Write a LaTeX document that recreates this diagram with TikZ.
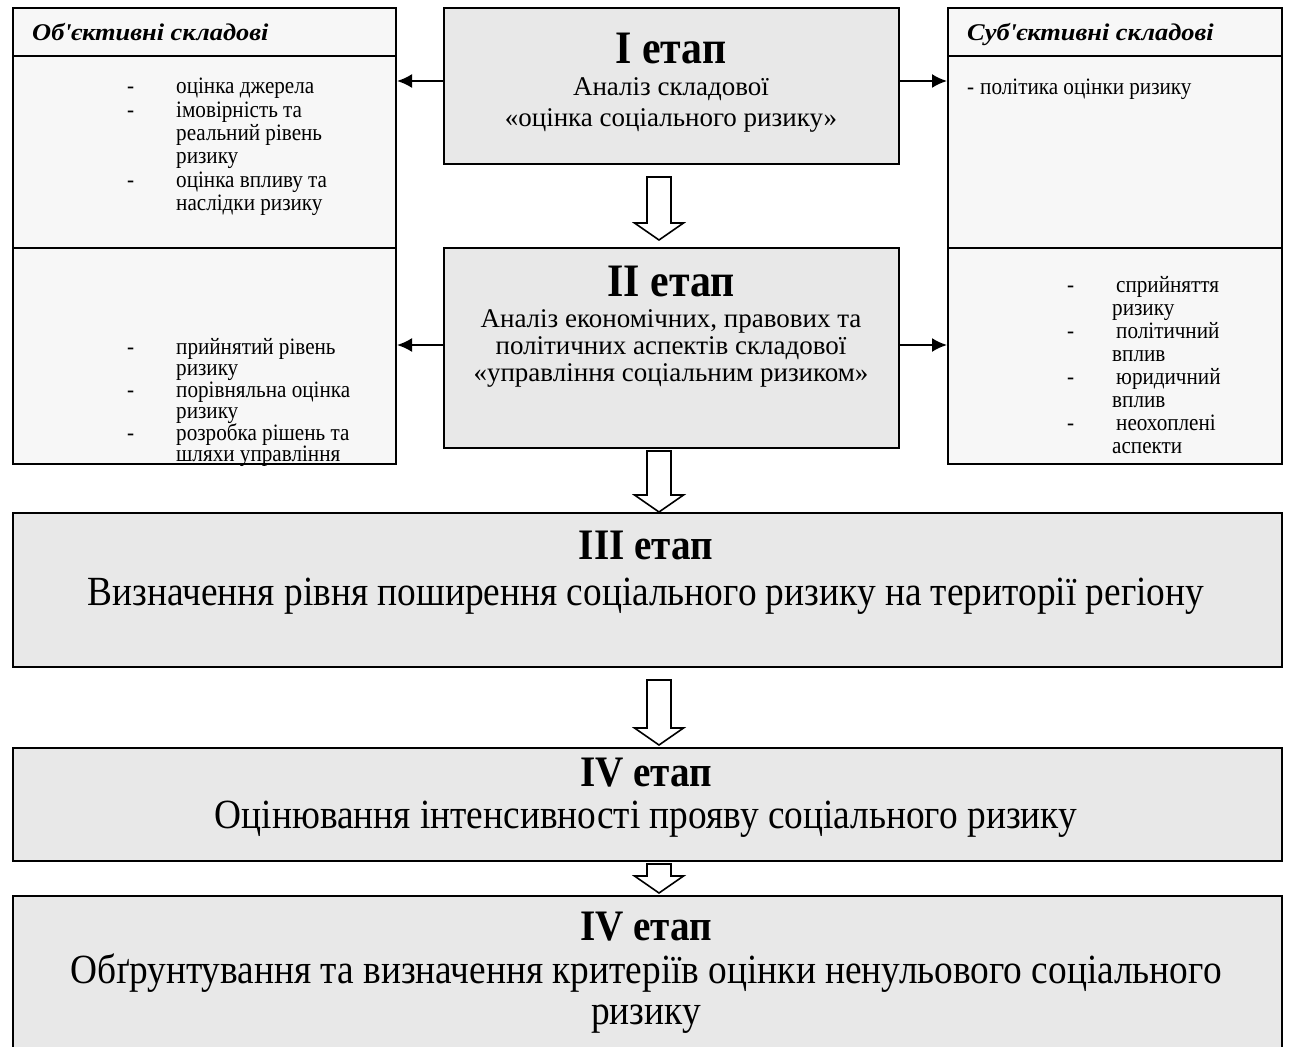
\documentclass[tikz,border=0pt]{standalone}
\usepackage{fontspec}
\setmainfont{Liberation Serif}[FakeStretch=0.9]
\newfontfamily\plainfont{Liberation Serif}
\newfontfamily\widefont{Liberation Serif}[FakeStretch=1.1]
\usepackage{xcolor}
\definecolor{stagegray}{RGB}{232,232,232}
\definecolor{sidegray}{RGB}{247,247,247}
\usetikzlibrary{arrows.meta, positioning, calc}

\newcommand{\bigtitle}{\fontsize{46.5}{48}\selectfont\bfseries}
\newcommand{\subtxt}{\plainfont\fontsize{27}{28}\selectfont}
\newcommand{\lowtitle}{\fontsize{43.5}{45}\selectfont\bfseries}
\newcommand{\lowtxt}{\fontsize{41.5}{44}\selectfont}
\newcommand{\headtxt}{\widefont\fontsize{24}{25}\selectfont\bfseries\itshape}
\newcommand{\itemtxt}{\fontsize{23.5}{24}\selectfont}

% hollow down arrow between two stages
\newcommand{\hollowdown}[2]{%
  \draw[hollow] ($(#1)+(-12,0)$) -- ($(#1)+(12,0)$) -- ($(#2)+(12,-17)$)
    -- ($(#2)+(24.5,-17)$) -- (#2) -- ($(#2)+(-24.5,-17)$) -- ($(#2)+(-12,-17)$) -- cycle;}

\tikzset{
  stagebox/.style={draw, line width=2pt, fill=stagegray, anchor=north west, inner sep=0pt},
  sidebox/.style={draw, line width=2pt, fill=sidegray, anchor=north west, inner sep=0pt},
  txt/.style={inner sep=0pt, anchor=base},
  item/.style={inner sep=0pt, anchor=base west, font=\itemtxt},
  link/.style={-{Latex[length=15pt,width=14pt]}, line width=2pt},
  hollow/.style={line width=1.6pt, fill=white, line join=miter}
}

\begin{document}
\begin{tikzpicture}[x=1pt, y=-1pt]
\useasboundingbox (0,0) rectangle (1289,1046);

% --- side columns ---
\node[sidebox, minimum width=383pt, minimum height=48pt] (objhead) at (12,7) {};
\node[sidebox, minimum width=383pt, minimum height=192pt] (objtop) at (12,55) {};
\node[sidebox, minimum width=383pt, minimum height=216pt] (objbot) at (12,247) {};
\node[sidebox, minimum width=334pt, minimum height=48pt] (subhead) at (947,7) {};
\node[sidebox, minimum width=334pt, minimum height=192pt] (subtop) at (947,55) {};
\node[sidebox, minimum width=334pt, minimum height=216pt] (subbot) at (947,247) {};

\node[inner sep=0pt, anchor=base west, font=\headtxt] (objtitle) at (32,41) {Об\textquotesingle єктивні складові};
\node[inner sep=0pt, anchor=base west, font=\headtxt] (subtitle) at (967,41) {Суб\textquotesingle єктивні складові};

% objective items
\foreach \yy [count=\k] in {94,117.3,187.2}
  \node[item] (objdashA\k) at (127,\yy) {-};
\foreach \ln/\yy [count=\k] in {оцінка джерела/94, імовірність та/117.3, реальний рівень/140.6,
    ризику/163.9, оцінка впливу та/187.2, наслідки ризику/210.5}
  \node[item] (objA\k) at (176,\yy) {\ln};
\foreach \yy [count=\k] in {354,397,440}
  \node[item] (objdashB\k) at (127,\yy) {-};
\foreach \ln/\yy [count=\k] in {прийнятий рівень/354, ризику/375.5, порівняльна оцінка/397,
    ризику/418.5, розробка рішень та/440, шляхи управління/461.5}
  \node[item] (objB\k) at (176,\yy) {\ln};

% subjective items
\node[item] (subdashA) at (967,95) {-};
\node[item] (subA) at (980,95) {політика оцінки ризику};
\foreach \yy [count=\k] in {292,338,384,430}
  \node[item] (subdashB\k) at (1067,\yy) {-};
\foreach \ln/\yy [count=\k] in {сприйняття/292, політичний/338, юридичний/384, неохоплені/430}
  \node[item] (subB\k) at (1116,\yy) {\ln};
\foreach \ln/\yy [count=\k] in {ризику/315, вплив/361, вплив/407, аспекти/453}
  \node[item] (subC\k) at (1112,\yy) {\ln};

% --- stages ---
\node[stagebox, minimum width=455pt, minimum height=156pt] (s1) at (443,7) {};
\node[txt, font=\bigtitle] (s1t) at (671,64) {I етап};
\node[txt, font=\subtxt] (s1a) at (671,96) {Аналіз складової};
\node[txt, font=\subtxt] (s1b) at (671,126) {«оцінка соціального ризику»};

\node[stagebox, minimum width=455pt, minimum height=200pt] (s2) at (443,247) {};
\node[txt, font=\bigtitle] (s2t) at (671,296) {II етап};
\node[txt, font=\subtxt] (s2a) at (671,327) {Аналіз економічних, правових та};
\node[txt, font=\subtxt] (s2b) at (671,354) {політичних аспектів складової};
\node[txt, font=\subtxt] (s2c) at (671,381) {«управління соціальним ризиком»};

\node[stagebox, minimum width=1269pt, minimum height=154pt] (s3) at (12,512) {};
\node[txt, font=\lowtitle] (s3t) at (646,559) {III етап};
\node[txt, font=\lowtxt] (s3a) at (646,605) {Визначення рівня поширення соціального ризику на території регіону};

\node[stagebox, minimum width=1269pt, minimum height=113pt] (s4) at (12,747) {};
\node[txt, font=\lowtitle] (s4t) at (646,786) {IV етап};
\node[txt, font=\lowtxt] (s4a) at (646,828) {Оцінювання інтенсивності прояву соціального ризику};

\node[stagebox, minimum width=1269pt, minimum height=180pt] (s5) at (12,895) {};
\node[txt, font=\lowtitle] (s5t) at (646,940) {IV етап};
\node[txt, font=\lowtxt] (s5a) at (646,983) {Обґрунтування та визначення критеріїв оцінки ненульового соціального};
\node[txt, font=\lowtxt] (s5b) at (646,1024) {ризику};

% --- links to the side columns ---
\draw[link] ([yshift=5pt]s1.west) -- ([yshift=5pt]s1.west -| objtop.east);
\draw[link] ([yshift=5pt]s1.east) -- ([yshift=5pt]s1.east -| subtop.west);
\draw[link] ([yshift=3pt]s2.west) -- ([yshift=3pt]s2.west -| objbot.east);
\draw[link] ([yshift=3pt]s2.east) -- ([yshift=3pt]s2.east -| subbot.west);

% --- hollow arrows between stages ---
\coordinate (ax) at (659,0);
\coordinate (a1top) at ($(ax |- s1.south)+(0,12)$);
\coordinate (a1tip) at ($(ax |- s2.north)+(0,-7)$);
\coordinate (a2top) at ($(ax |- s2.south)+(0,2)$);
\coordinate (a2tip) at (ax |- s3.north);
\coordinate (a3top) at ($(ax |- s3.south)+(0,12)$);
\coordinate (a3tip) at ($(ax |- s4.north)+(0,-2)$);
\coordinate (a4top) at ($(ax |- s4.south)+(0,2)$);
\coordinate (a4tip) at ($(ax |- s5.north)+(0,-2)$);
\hollowdown{a1top}{a1tip}
\hollowdown{a2top}{a2tip}
\hollowdown{a3top}{a3tip}
\hollowdown{a4top}{a4tip}

\end{tikzpicture}
\end{document}
